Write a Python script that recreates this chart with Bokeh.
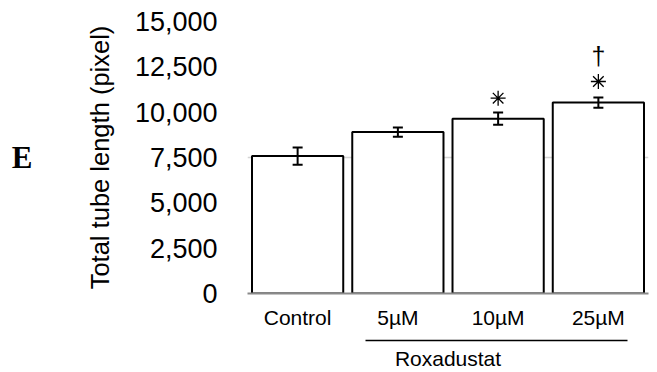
from bokeh.plotting import figure
from bokeh.models import (ColumnDataSource, Whisker, TeeHead, LinearAxis, FixedTicker,
                          NumeralTickFormatter, SingleIntervalTicker, Range1d)
from bokeh.core.properties import value
from bokeh.embed import file_html
from bokeh.resources import INLINE

# ---- data ----
categories = ["Control", "5µM", "10µM", "25µM"]
means = [7580, 8900, 9640, 10530]
errors = [475, 255, 340, 285]
star_cats = ["10µM", "25µM"]
star_y = [10770, 11690]
dagger_cats = ["25µM"]
dagger_y = [13120]
y_label = "Total tube length (pixel)"
group_label = "Roxadustat"
group_members = ["5µM", "10µM", "25µM"]
panel_letter = "E"

# category positions on a numeric axis (centre of each slot)
pos = {c: i + 0.5 for i, c in enumerate(categories)}
xs = [pos[c] for c in categories]
lower = [m - e for m, e in zip(means, errors)]
upper = [m + e for m, e in zip(means, errors)]
src = ColumnDataSource(dict(x=xs, mean=means, lower=lower, upper=upper))

FONT = "Liberation Sans"
BAR_W = 0.91

p = figure(x_range=Range1d(0, len(categories)), y_range=Range1d(0, 15000), width=657, height=372,
           output_backend="svg", toolbar_location=None,
           min_border_left=247, min_border_right=9, min_border_top=21, min_border_bottom=78)
p.outline_line_color = None
p.background_fill_color = "white"
p.border_fill_color = "white"

p.vbar(x="x", top="mean", width=BAR_W, source=src, fill_color="white",
       line_color="black", line_width=2)

w = Whisker(base="x", upper="upper", lower="lower", source=src, level="overlay",
            line_color="black", line_width=2,
            upper_head=TeeHead(size=10, line_width=2, line_color="black"),
            lower_head=TeeHead(size=10, line_width=2, line_color="black"))
p.add_layout(w)

p.scatter(x=[pos[c] for c in star_cats], y=star_y, marker="asterisk", size=15,
          line_color="black", line_width=1.3)
p.text(x=[pos[c] for c in dagger_cats], y=dagger_y, text=["†"], text_font=value(FONT),
       text_font_size="25px", text_align="center", text_baseline="middle", text_color="black")

# y axis
p.yaxis.ticker = SingleIntervalTicker(interval=2500)
p.yaxis.formatter = NumeralTickFormatter(format="0,0")
p.yaxis.axis_line_color = None
p.yaxis.major_tick_line_color = None
p.yaxis.minor_tick_line_color = None
p.yaxis.major_label_text_font = FONT
p.yaxis.major_label_text_font_size = "27px"
p.yaxis.major_label_text_color = "black"
p.yaxis.major_label_standoff = 24
p.yaxis.axis_label = y_label
p.yaxis.axis_label_text_font = FONT
p.yaxis.axis_label_text_font_size = "25.5px"
p.yaxis.axis_label_text_font_style = "normal"
p.yaxis.axis_label_text_color = "black"
p.yaxis.axis_label_standoff = 18

# panel letter as the label of an extra, otherwise empty, left axis
letter_axis = LinearAxis(ticker=FixedTicker(ticks=[]), bounds=(6700, 7650),
                         axis_line_color=None, major_tick_line_color=None,
                         minor_tick_line_color=None, major_tick_out=0, minor_tick_out=0,
                         axis_label=panel_letter, axis_label_orientation="horizontal",
                         axis_label_text_font="Liberation Serif",
                         axis_label_text_font_size="31px",
                         axis_label_text_font_style="bold",
                         axis_label_text_color="black", axis_label_standoff=50)
p.add_layout(letter_axis, "left")

# x axis with category names
p.xaxis.ticker = FixedTicker(ticks=xs)
p.xaxis.major_label_overrides = {x: c for x, c in zip(xs, categories)}
p.xaxis.axis_line_color = "#8a8a8a"
p.xaxis.axis_line_width = 2
p.xaxis.major_tick_line_color = None
p.xaxis.minor_tick_line_color = None
p.xaxis.major_tick_out = 0
p.xaxis.minor_tick_out = 0
p.xaxis.major_label_text_font = FONT
p.xaxis.major_label_text_font_size = "21px"
p.xaxis.major_label_text_color = "black"
p.xaxis.major_label_standoff = 12

# spacer (one invisible white tick at the frame edge gives room), then the group bracket
spacer = LinearAxis(ticker=FixedTicker(ticks=[0]), major_label_overrides={0: ""},
                    axis_line_color=None, major_tick_line_color="white",
                    minor_tick_line_color=None, major_tick_out=9, minor_tick_out=0,
                    major_label_standoff=0)
p.add_layout(spacer, "below")
g0 = pos[group_members[0]] - 0.32
g1 = pos[group_members[-1]] + BAR_W / 2 - 0.165
bracket = LinearAxis(ticker=FixedTicker(ticks=[]), bounds=(g0, g1),
                     axis_line_color="black", axis_line_width=1.5,
                     major_tick_line_color=None, minor_tick_line_color=None,
                     major_tick_out=0, minor_tick_out=0,
                     axis_label=group_label, axis_label_text_font=FONT,
                     axis_label_text_font_size="21px", axis_label_text_font_style="normal",
                     axis_label_text_color="black", axis_label_standoff=6)
p.add_layout(bracket, "below")

p.xgrid.grid_line_color = None
p.ygrid.grid_line_color = "#d4d4d4"
p.ygrid.grid_line_width = 1.5

open("out.html", "w").write(file_html(p, INLINE))
